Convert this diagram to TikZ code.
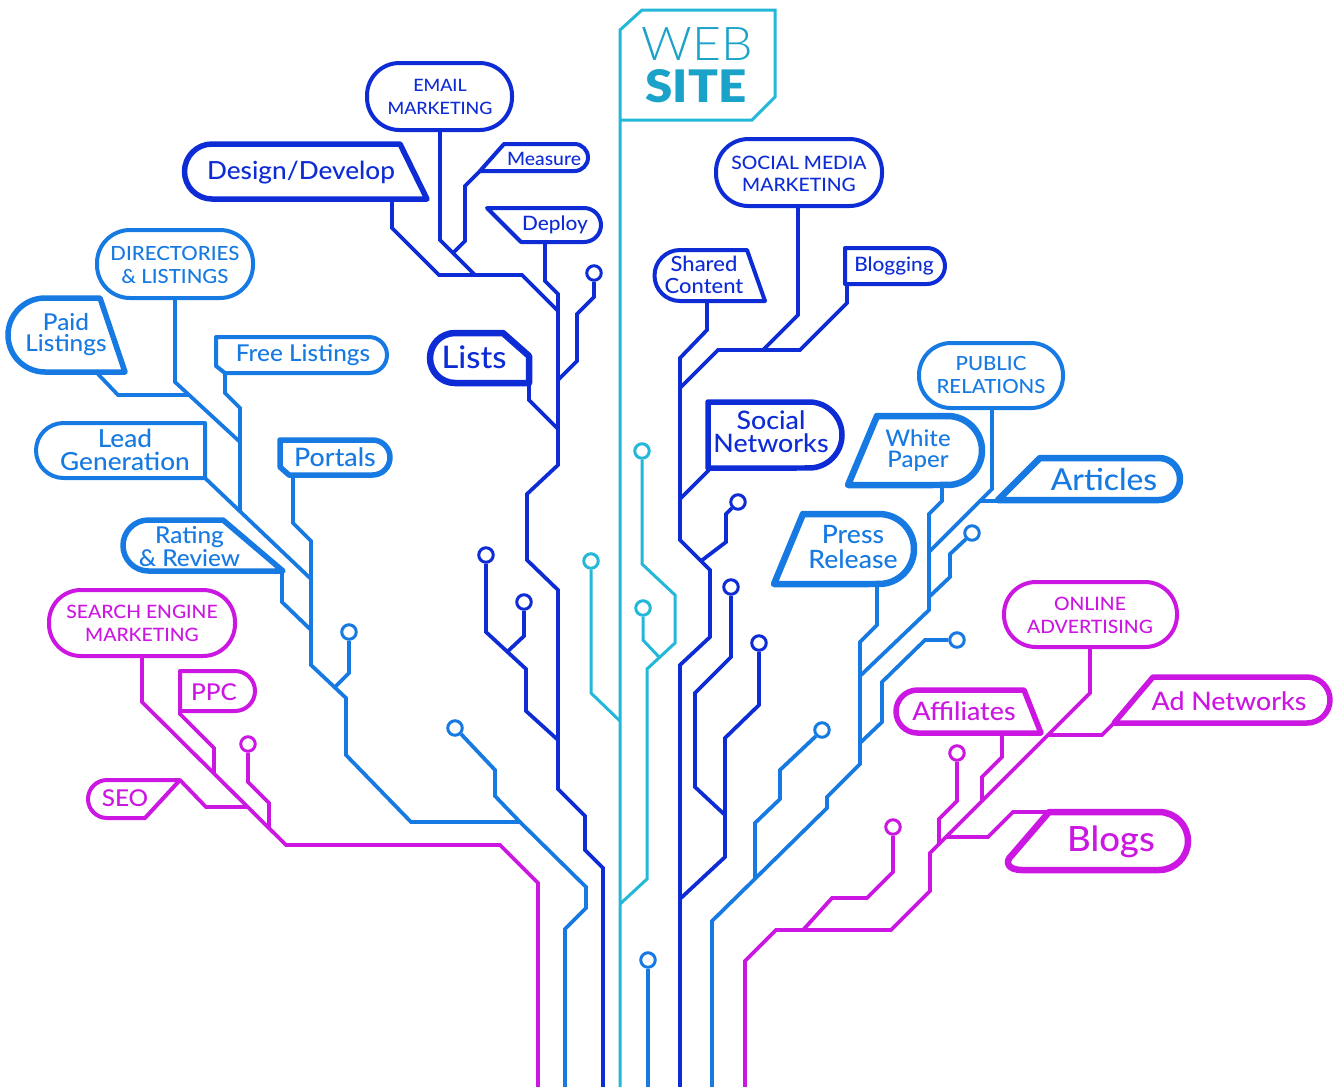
\documentclass[tikz,border=0pt]{standalone}
\usepackage{fontspec}
\setmainfont{Lato}
\usepackage{graphicx}
\IfFontExistsTF{Lato Medium}{\newfontfamily\lblfont{Lato Medium}[FakeStretch=1.05]}{\newfontfamily\lblfont{Lato}[FakeBold=0.6,FakeStretch=1.05]}
\IfFontExistsTF{Lato Light}{\newfontfamily\webfont{Lato Light}[FakeStretch=1.07]}{\newfontfamily\webfont{Lato}[FakeStretch=1.07]}
\IfFontExistsTF{Lato Black}{\newfontfamily\sitefont{Lato Black}[FakeStretch=1.1]}{\newfontfamily\sitefont{Lato}[FakeBold=1.5,FakeStretch=1.1]}
\definecolor{dk}{RGB}{14,44,214}
\definecolor{md}{RGB}{22,122,226}
\definecolor{cy}{RGB}{36,184,216}
\definecolor{mg}{RGB}{204,22,226}
\definecolor{ws}{RGB}{26,162,200}
\newcommand\fs[2]{\lblfont\fontsize{#1}{#2}\selectfont}
\tikzset{
 wire/.style={line width=0.075cm},
 box/.style={line width=0.08cm, line join=round},
 boxthick/.style={line width=0.11cm, line join=round},
 boxheavy/.style={line width=0.13cm, line join=round},
 dot/.style={circle, draw, fill=white, inner sep=0pt, minimum size=0.29cm, line width=0.06cm},
 lbl/.style={inner sep=0pt, align=center},
}
\begin{document}
\begin{tikzpicture}[x=0.02cm,y=-0.02cm]
\useasboundingbox (0,0) rectangle (1335,1086);
\fill[white] (0,0) rectangle (1335,1086);

% ---------- website box and trunk ----------
\draw[cy, line width=0.06cm] (620,1090) -- (620,30) -- (642,10) -- (775,10) -- (775,97) -- (752,120) -- (620,120);
\node[lbl,ws,font=\webfont\fontsize{26.5}{30}\selectfont] (web) at (697,44.5) {WEB};
\node[lbl,ws,font=\sitefont\fontsize{25.5}{30}\selectfont] (site) at (696,86.5) {SITE};

% ---------- circles ----------
\node[dk,dot] (cN) at (594,273) {};
\node[dk,dot] (cE) at (486,555) {};
\node[dk,dot] (cF) at (524,602) {};
\node[dk,dot] (cO) at (738,502) {};
\node[dk,dot] (cH) at (731,587) {};
\node[dk,dot] (cI) at (759,643) {};
\node[cy,dot] (cA) at (642,451) {};
\node[cy,dot] (cB) at (643,608) {};
\node[cy,dot] (cC) at (591,561) {};
\node[md,dot] (cP) at (349,632) {};
\node[md,dot] (cG) at (455,728) {};
\node[md,dot] (cL) at (972,533) {};
\node[md,dot] (cM) at (957,640) {};
\node[md,dot] (cJ) at (822,730) {};
\node[md,dot] (cD) at (648,960) {};
\node[mg,dot] (cQ) at (248,744) {};
\node[mg,dot] (cK) at (957,753) {};
\node[mg,dot] (cR) at (893,827) {};

% ---------- dark blue, left ----------
\draw[wire,dk] (440,130) -- (440,240) -- (475,275);
\draw[wire,dk] (480,171) -- (465,186) -- (465,241) -- (453,253);
\draw[wire,dk] (392,199) -- (392,228) -- (439,275) -- (522,275) -- (558,311);
\draw[wire,dk] (545,242) -- (545,281) -- (558,294) -- (558,465) -- (527,494) -- (527,560) -- (558,590) -- (558,789) -- (585,816) -- (585,850) -- (603,868) -- (603,1090);
\draw[wire,dk] (cN.south) -- (594,297) -- (577,314) -- (577,361) -- (558,380);
\draw[wire,dk] (529,383) -- (529,400) -- (558,429);
\draw[wire,dk] (cE.south) -- (486,632) -- (526,669) -- (526,711) -- (558,740);
\draw[wire,dk] (cF.south) -- (524,636) -- (507,652);

% ---------- dark blue, right ----------
\draw[wire,dk] (798,206) -- (798,315) -- (763,350);
\draw[wire,dk] (847,284) -- (847,303) -- (800,350) -- (718,350) -- (680,388);
\draw[wire,dk] (707,301) -- (707,330) -- (680,358) -- (680,540) -- (710,570) -- (710,637) -- (680,665) -- (680,1090);
\draw[wire,dk] (709,470) -- (680,499);
\draw[wire,dk] (cO.south west) -- (726,514) -- (726,542) -- (701,561);
\draw[wire,dk] (cH.south) -- (731,657) -- (695,693) -- (695,787) -- (725,815);
\draw[wire,dk] (cI.south) -- (759,705) -- (725,738) -- (725,857) -- (681,898);

% ---------- mid blue, left ----------
\draw[wire,md] (175,298) -- (175,382) -- (240,442);
\draw[wire,md] (97,373) -- (118,395) -- (189,395);
\draw[wire,md] (225,373) -- (225,393) -- (240,408) -- (240,511);
\draw[wire,md] (205,478) -- (311,579);
\draw[wire,md] (293,475) -- (293,523) -- (311,541) -- (311,665) -- (346,698) -- (346,755) -- (411,822) -- (520,822) -- (586,887) -- (586,908) -- (565,929) -- (565,1090);
\draw[wire,md] (282,571) -- (282,602) -- (311,630);
\draw[wire,md] (cP.south) -- (349,673) -- (335,687);
\draw[wire,md] (cG.south east) -- (495,770) -- (495,796) -- (520,822);

% ---------- cyan branches ----------
\draw[cy, line width=0.06cm] (cA.south) -- (642,564) -- (675,595) -- (675,643) -- (647,669) -- (647,879) -- (620,904);
\draw[cy, line width=0.06cm] (cB.south) -- (643,640) -- (659,657);
\draw[cy, line width=0.06cm] (cC.south) -- (591,693) -- (620,721);

% ---------- mid blue, right ----------
\draw[wire,md] (992,408) -- (992,489) -- (980,501);
\draw[wire,md] (999,501) -- (980,501) -- (929,552);
\draw[wire,md] (942,485) -- (942,501) -- (929,514) -- (929,610) -- (860,676);
\draw[wire,md] (cL.south west) -- (950,554) -- (950,577) -- (929,597);
\draw[wire,md] (877,584) -- (877,625) -- (860,642) -- (860,764) -- (827,797) -- (827,808) -- (712,921) -- (712,1090);
\draw[wire,md] (cM.west) -- (925,640) -- (882,682) -- (882,722) -- (860,743);
\draw[wire,md] (cJ.south west) -- (780,770) -- (780,799) -- (755,823) -- (755,879);
\draw[wire,md] (cD.south) -- (648,1090);

% ---------- magenta, left ----------
\draw[wire,mg] (142,656) -- (142,702) -- (286,845) -- (500,845) -- (538,883) -- (538,1090);
\draw[wire,mg] (180,711) -- (180,714) -- (214,748) -- (214,774);
\draw[wire,mg] (cQ.south) -- (248,782) -- (269,803) -- (269,828);
\draw[wire,mg] (180,780) -- (206,807) -- (247,807);

% ---------- magenta, right ----------
\draw[wire,mg] (1090,647) -- (1090,693) -- (930,853) -- (930,891) -- (891,930) -- (776,930) -- (745,961) -- (745,1090);
\draw[wire,mg] (1115,722) -- (1102,735) -- (1048,735);
\draw[wire,mg] (1002,733) -- (1002,757) -- (982,777) -- (982,801);
\draw[wire,mg] (cK.south) -- (957,801) -- (939,819) -- (939,844);
\draw[wire,mg] (1049,812) -- (1013,812) -- (988,837) -- (947,837);
\draw[wire,mg] (cR.south) -- (893,872) -- (867,898) -- (832,898) -- (803,930);

% ---------- boxes: dark blue ----------
\draw[box,dk,rounded corners=0.65cm] (367,63) rectangle (512,130);
\draw[boxthick,dk] (212,144) -- (400,144) -- (427,199) -- (212,199) arc[start angle=270,end angle=90,radius=0.55cm] -- cycle;
\draw[box,dk] (480,171) -- (504,144) -- (574.5,144) arc[start angle=90,end angle=-90,radius=0.27cm] -- cycle;
\draw[box,dk] (487,208) -- (584,208) arc[start angle=90,end angle=-90,radius=0.34cm] -- (521,242) -- cycle;
\draw[boxheavy,dk] (455,333) -- (503,333) -- (529,356) -- (529,383) -- (455,383) arc[start angle=270,end angle=90,radius=0.5cm] -- cycle;
\draw[box,dk,rounded corners=0.65cm] (716,139) rectangle (882,206);
\draw[box,dk] (680,250) -- (747,250) -- (765,301) -- (680,301) arc[start angle=270,end angle=90,radius=0.51cm] -- cycle;
\draw[box,dk] (845,284) -- (845,248) -- (927,248) arc[start angle=90,end angle=-90,radius=0.36cm] -- cycle;
\draw[boxthick,dk] (708,468) -- (708,402) -- (809,402) arc[start angle=90,end angle=-90,radius=0.66cm] -- cycle;

% ---------- boxes: mid blue ----------
\draw[box,md,rounded corners=0.66cm] (97,230) rectangle (253,298);
\draw[boxthick,md] (45,298) -- (100,298) -- (125,372) -- (45,372) arc[start angle=270,end angle=90,radius=0.74cm] -- cycle;
\draw[box,md] (225,373) -- (216,366) -- (216,337) -- (369,337) arc[start angle=90,end angle=-90,radius=0.36cm] -- cycle;
\draw[box,md] (63.5,423) -- (205,423) -- (205,478) -- (63.5,478) arc[start angle=270,end angle=90,radius=0.55cm] -- cycle;
\draw[boxthick,md] (289,475) -- (280,467) -- (280,440) -- (372.5,440) arc[start angle=90,end angle=-90,radius=0.35cm] -- cycle;
\draw[boxthick,md] (148.5,520) -- (223,520) -- (283,571) -- (148.5,571) arc[start angle=270,end angle=90,radius=0.51cm] -- cycle;
\draw[box,md,rounded corners=0.64cm] (919,343) rectangle (1063,408);
\draw[boxheavy,md] (848,485) -- (877,416) -- (947.5,416) arc[start angle=90,end angle=-90,radius=0.69cm] -- cycle;
\draw[boxheavy,md] (998,500) -- (1040,458) -- (1159,458) arc[start angle=90,end angle=-90,radius=0.42cm] -- cycle;
\draw[boxheavy,md] (774,584) -- (803,514) -- (879,514) arc[start angle=90,end angle=-90,radius=0.7cm] -- cycle;

% ---------- boxes: magenta ----------
\draw[box,mg,rounded corners=0.64cm] (49,590) rectangle (235,656);
\draw[box,mg] (180,711) -- (180,671) -- (235,671) arc[start angle=90,end angle=-90,radius=0.4cm] -- cycle;
\draw[box,mg] (107,780) -- (180,780) -- (145,818) -- (107,818) arc[start angle=270,end angle=90,radius=0.38cm] -- cycle;
\draw[box,mg,rounded corners=0.64cm] (1004,582) rectangle (1177,647);
\draw[boxthick,mg] (1114,723) -- (1153,677) -- (1307,677) arc[start angle=90,end angle=-90,radius=0.46cm] -- cycle;
\draw[boxthick,mg] (917.5,690) -- (1024,690) -- (1041,733) -- (917.5,733) arc[start angle=270,end angle=90,radius=0.43cm] -- cycle;
\draw[boxheavy,mg] (1049,812) -- (1159,812) arc[start angle=90,end angle=-90,radius=0.58cm] -- (1022,870) .. controls (1008,870) and (1004,862) .. (1012,855) -- cycle;

% ---------- labels ----------
\node[lbl,dk,font=\fs{9.7}{13.2}] (email) at (440,97) {EMAIL\\MARKETING};
\node[lbl,dk,font=\fs{14.2}{17},anchor=base] (design) at (301,179) {Design/Develop};
\node[lbl,dk,font=\fs{10.5}{12},anchor=base] (measure) at (544,165) {Measure};
\node[lbl,dk,font=\fs{11.3}{13},anchor=base] (deploy) at (555,230) {Deploy};
\node[lbl,dk,font=\fs{17.7}{20},anchor=base] (lists) at (474,368) {Lists};
\node[lbl,dk,font=\fs{10.5}{12.5}] (smm) at (799,173.5) {SOCIAL MEDIA\\MARKETING};
\node[lbl,dk,font=\fs{11.9}{12.3}] (shared) at (704,275) {Shared\\Content};
\node[lbl,dk,font=\fs{11.3}{13},anchor=base] (blogging) at (894,271.7) {Blogging};
\node[lbl,dk,font=\fs{14.5}{13.2}] (socnet) at (771,432) {Social\\Networks};

\node[lbl,md,font=\fs{11.1}{13.2}] (dir) at (175,264.7) {DIRECTORIES\\\& LISTINGS};
\node[lbl,md,font=\fs{13.2}{12.3}] (paid) at (66,334.5) {Paid\\Listings};
\node[lbl,md,font=\fs{13.2}{15},anchor=base] (free) at (303,361.7) {Free Listings};
\node[lbl,md,font=\fs{14.2}{13}] (lead) at (125,449.5) {Lead\\Generation};
\node[lbl,md,font=\fs{14.5}{16},anchor=base] (portals) at (335,466.7) {Portals};
\node[lbl,md,font=\fs{13.2}{13.3}] (rating) at (189.5,546.5) {Rating\\\& Review};
\node[lbl,md,font=\fs{11.1}{12.8}] (pr) at (991,375) {PUBLIC\\RELATIONS};
\node[lbl,md,font=\fs{13}{12.2}] (white) at (918,450.7) {White\\Paper};
\node[lbl,md,font=\fs{17.2}{20},anchor=base] (articles) at (1104,490) {Articles};
\node[lbl,md,font=\fs{14.4}{14.2}] (press) at (853,547) {Press\\Release};

\node[lbl,mg,font=\fs{10.5}{13.2}] (sem) at (142,623.3) {SEARCH ENGINE\\MARKETING};
\node[lbl,mg,font=\fs{13.2}{15},anchor=base] (ppc) at (214,700) {PPC};
\node[lbl,mg,font=\fs{13.2}{15},anchor=base] (seo) at (125,806.7) {SEO};
\node[lbl,mg,font=\fs{10.5}{13.2}] (oa) at (1090,615) {ONLINE\\ADVERTISING};
\node[lbl,mg,font=\fs{14.5}{16},anchor=base] (adnet) at (1229,710) {Ad Networks};
\node[lbl,mg,font=\fs{14.5}{16},anchor=base] (aff) at (964,720) {Affiliates};
\node[lbl,mg,font=\fs{19.8}{22},anchor=base] (blogs) at (1111,851) {Blogs};
\end{tikzpicture}
\end{document}
